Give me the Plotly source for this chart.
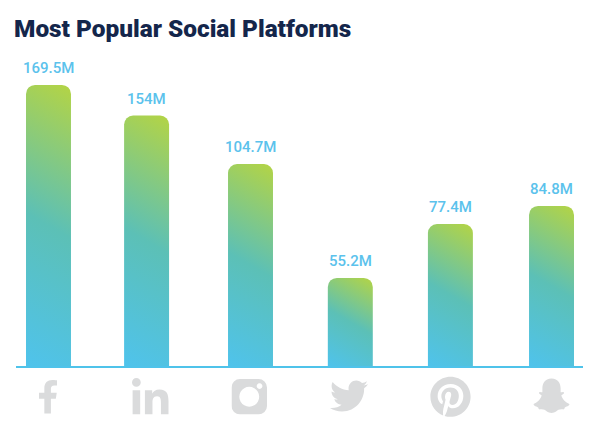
import base64
import plotly.graph_objects as go

# labels printed on the chart
platforms = ['Facebook', 'LinkedIn', 'Instagram', 'Twitter', 'Pinterest', 'Snapchat']
labels = ['169.5M', '154M', '104.7M', '55.2M', '77.4M', '84.8M']
# bar heights as drawn in the picture (they are not quite to scale with the labels)
heights = [169.5, 151, 121.8, 53.1, 85.6, 96.5]

BLUE = '#5BC2EC'
ICON = '#DADBDC'

FB = 'M279.14 288l14.22-92.66h-88.91v-60.13c0-25.35 12.42-50.06 52.24-50.06h40.42V6.26S260.43 0 225.36 0c-73.22 0-121.08 44.38-121.08 124.72v70.62H22.89V288h81.39v224h100.17V288z'
LI = 'M100.28 448H7.4V148.9h92.88zM53.79 108.1C24.09 108.1 0 83.5 0 53.8a53.79 53.79 0 0 1 107.58 0c0 29.7-24.1 54.3-53.79 54.3zM447.9 448h-92.68V302.4c0-34.7-.7-79.2-48.29-79.2-48.29 0-55.69 37.7-55.69 76.7V448h-92.78V148.9h89.08v40.8h1.3c12.4-23.5 42.69-48.3 87.88-48.3 94 0 111.28 61.9 111.28 142.3V448z'
IG = 'M24 0H76A24 24 0 0 1 100 24V76A24 24 0 0 1 76 100H24A24 24 0 0 1 0 76V24A24 24 0 0 1 24 0ZM50 22A28 28 0 1 0 50.01 22ZM79 12A8 8 0 1 0 79.01 12Z'
TW = 'M459.37 151.716c.325 4.548.325 9.097.325 13.645 0 138.72-105.583 298.558-298.558 298.558-59.452 0-114.68-17.219-161.137-47.106 8.447.974 16.568 1.299 25.34 1.299 49.055 0 94.213-16.568 130.274-44.832-46.132-.975-84.792-31.188-98.112-72.772 6.498.974 12.995 1.624 19.818 1.624 9.421 0 18.843-1.3 27.614-3.573-48.081-9.747-84.143-51.98-84.143-102.985v-1.299c13.969 7.797 30.214 12.67 47.431 13.319-28.264-18.843-46.781-51.005-46.781-87.391 0-19.492 5.197-37.36 14.294-52.954 51.655 63.675 129.3 105.258 216.365 109.807-1.624-7.797-2.599-15.918-2.599-24.04 0-57.828 46.782-104.934 104.934-104.934 30.213 0 57.502 12.67 76.67 33.137 23.715-4.548 46.456-13.32 66.599-25.34-7.798 24.366-24.366 44.833-46.132 57.827 21.117-2.273 41.584-8.122 60.426-16.243-14.292 20.791-32.161 39.308-52.628 54.253z'
PI = 'M496 256c0 137-111 248-248 248-25.6 0-50.2-3.9-73.4-11.1 10.1-16.5 25.2-43.5 30.8-65 3-11.6 15.4-59 15.4-59 8.1 15.4 31.7 28.5 56.8 28.5 74.8 0 128.7-68.8 128.7-154.3 0-81.9-66.9-143.2-152.9-143.2-107 0-163.9 71.8-163.9 150.1 0 36.4 19.4 81.7 50.3 96.1 4.7 2.2 7.2 1.2 8.3-3.3.8-3.4 5-20.3 6.9-28.1.6-2.5.3-4.7-1.7-7.1-10.1-12.5-18.3-35.3-18.3-56.6 0-54.7 41.4-107.6 112-107.6 60.9 0 103.6 41.5 103.6 100.9 0 67.1-33.9 113.6-78 113.6-24.3 0-42.6-20.1-36.7-44.8 7-29.5 20.5-61.3 20.5-82.6 0-19-10.2-34.9-31.4-34.9-24.9 0-44.9 25.7-44.9 60.2 0 22 7.4 36.8 7.4 36.8s-24.5 103.8-29 123.2c-5 21.4-3 51.6-.9 71.2C65.4 450.9 0 361.1 0 256 0 119 111 8 248 8s248 111 248 248z'
SC = 'M50 4C32 4 26 18 26 30L26 40C22 40 18 38 17 41C16 45 24 47 24 49C22 58 13 68 3 71C2 76 12 78 15 80C16 84 17 86 20 85C28 84 33 86 38 91C44 96 56 96 62 91C67 86 72 84 80 85C83 86 84 84 85 80C88 78 98 76 97 71C87 68 78 58 76 49C76 47 84 45 83 41C82 38 78 40 74 40L74 30C74 18 68 4 50 4Z'

# path, viewbox w, h, then left/top/right/bottom in page pixels
icons = [
    (FB, 320, 512, 37.5, 376.5, 58.5, 417),
    (LI, 448, 448, 131, 378, 169.5, 414.5),
    (IG, 100, 100, 231.5, 379, 267, 414.5),
    (TW, 512, 512, 330, 372, 368, 420),
    (PI, 496, 512, 430, 376, 471, 417.5),
    (SC, 100, 100, 531, 377, 572, 415),
]

# plot area in page pixels
left, right, bottom = 16, 583, 366


def icon_image(path, w, h, x0, y0, x1, y1):
    svg = (f'<svg xmlns="http://www.w3.org/2000/svg" viewBox="0 0 {w} {h}">'
           f'<path fill="{ICON}" fill-rule="evenodd" d="{path}"/></svg>')
    uri = 'data:image/svg+xml;base64,' + base64.b64encode(svg.encode()).decode()
    return dict(source=uri, xref='paper', yref='paper',
                x=(x0 - left) / (right - left), y=(bottom - y0) / bottom,
                sizex=(x1 - x0) / (right - left), sizey=(y1 - y0) / bottom,
                xanchor='left', yanchor='top', sizing='contain', layer='above')


# the bars in the picture are not evenly spaced, so nudge them a bit
nudge = [0, -0.025, 0.008, 0, -0.005, 0]

fig = go.Figure(go.Bar(
    x=platforms,
    y=heights,
    cliponaxis=False,
    width=0.447,
    offset=[-0.2235 + n for n in nudge],
    marker=dict(color='#5BC0B8', line_width=0),
    hoverinfo='skip',
))

for i, label in enumerate(labels):
    fig.add_annotation(x=i + nudge[i], y=heights[i], text=label, showarrow=False,
                       xanchor='center', yanchor='bottom', yshift=6,
                       font=dict(family='Roboto', size=15, color=BLUE, weight=500))

fig.update_layout(
    width=600,
    height=426,
    margin=dict(l=left, r=600 - right, t=0, b=426 - bottom),
    paper_bgcolor='white',
    plot_bgcolor='white',
    barcornerradius=9,
    showlegend=False,
    images=[icon_image(*i) for i in icons],
    title=dict(text='Most Popular Social Platforms', xref='container', yref='container',
               x=14 / 600, xanchor='left', y=1 - 28 / 426, yanchor='middle',
               font=dict(family='Roboto', size=24.4, color='#14264B', weight=900)),
)
fig.update_xaxes(range=[-0.323, 5.313], showline=True, linecolor='#4FC3EA', linewidth=2,
                 showticklabels=False, ticks='', showgrid=False, zeroline=False)
fig.update_yaxes(range=[0, 220.7], visible=False, showgrid=False, zeroline=False)

# plotly bars have no gradient fill, so add one to the svg after drawing
post = """
document.body.style.margin = '0';
document.body.style.overflow = 'hidden';
var gd = document.getElementById('{plot_id}');
var defs = gd.querySelector('.main-svg defs');
var ns = 'http://www.w3.org/2000/svg';
gd.querySelectorAll('.bars .point path').forEach(function (p, i) {
  var b = p.getBBox();
  var len = b.width * 0.5 + b.height * 0.866;
  var g = document.createElementNS(ns, 'linearGradient');
  g.setAttribute('id', 'barfade' + i);
  g.setAttribute('gradientUnits', 'userSpaceOnUse');
  g.setAttribute('x1', b.x); g.setAttribute('y1', b.y + b.height);
  g.setAttribute('x2', b.x + len * 0.5); g.setAttribute('y2', b.y + b.height - len * 0.866);
  [['0', '#4FC3EC'], ['0.5', '#5CC0B6'], ['1', '#B4D444']].forEach(function (s) {
    var st = document.createElementNS(ns, 'stop');
    st.setAttribute('offset', s[0]);
    st.setAttribute('stop-color', s[1]);
    g.appendChild(st);
  });
  defs.appendChild(g);
  p.style.fill = 'url(#barfade' + i + ')';
});
"""

fig.write_html("out.html", post_script=post, config=dict(displayModeBar=False))
